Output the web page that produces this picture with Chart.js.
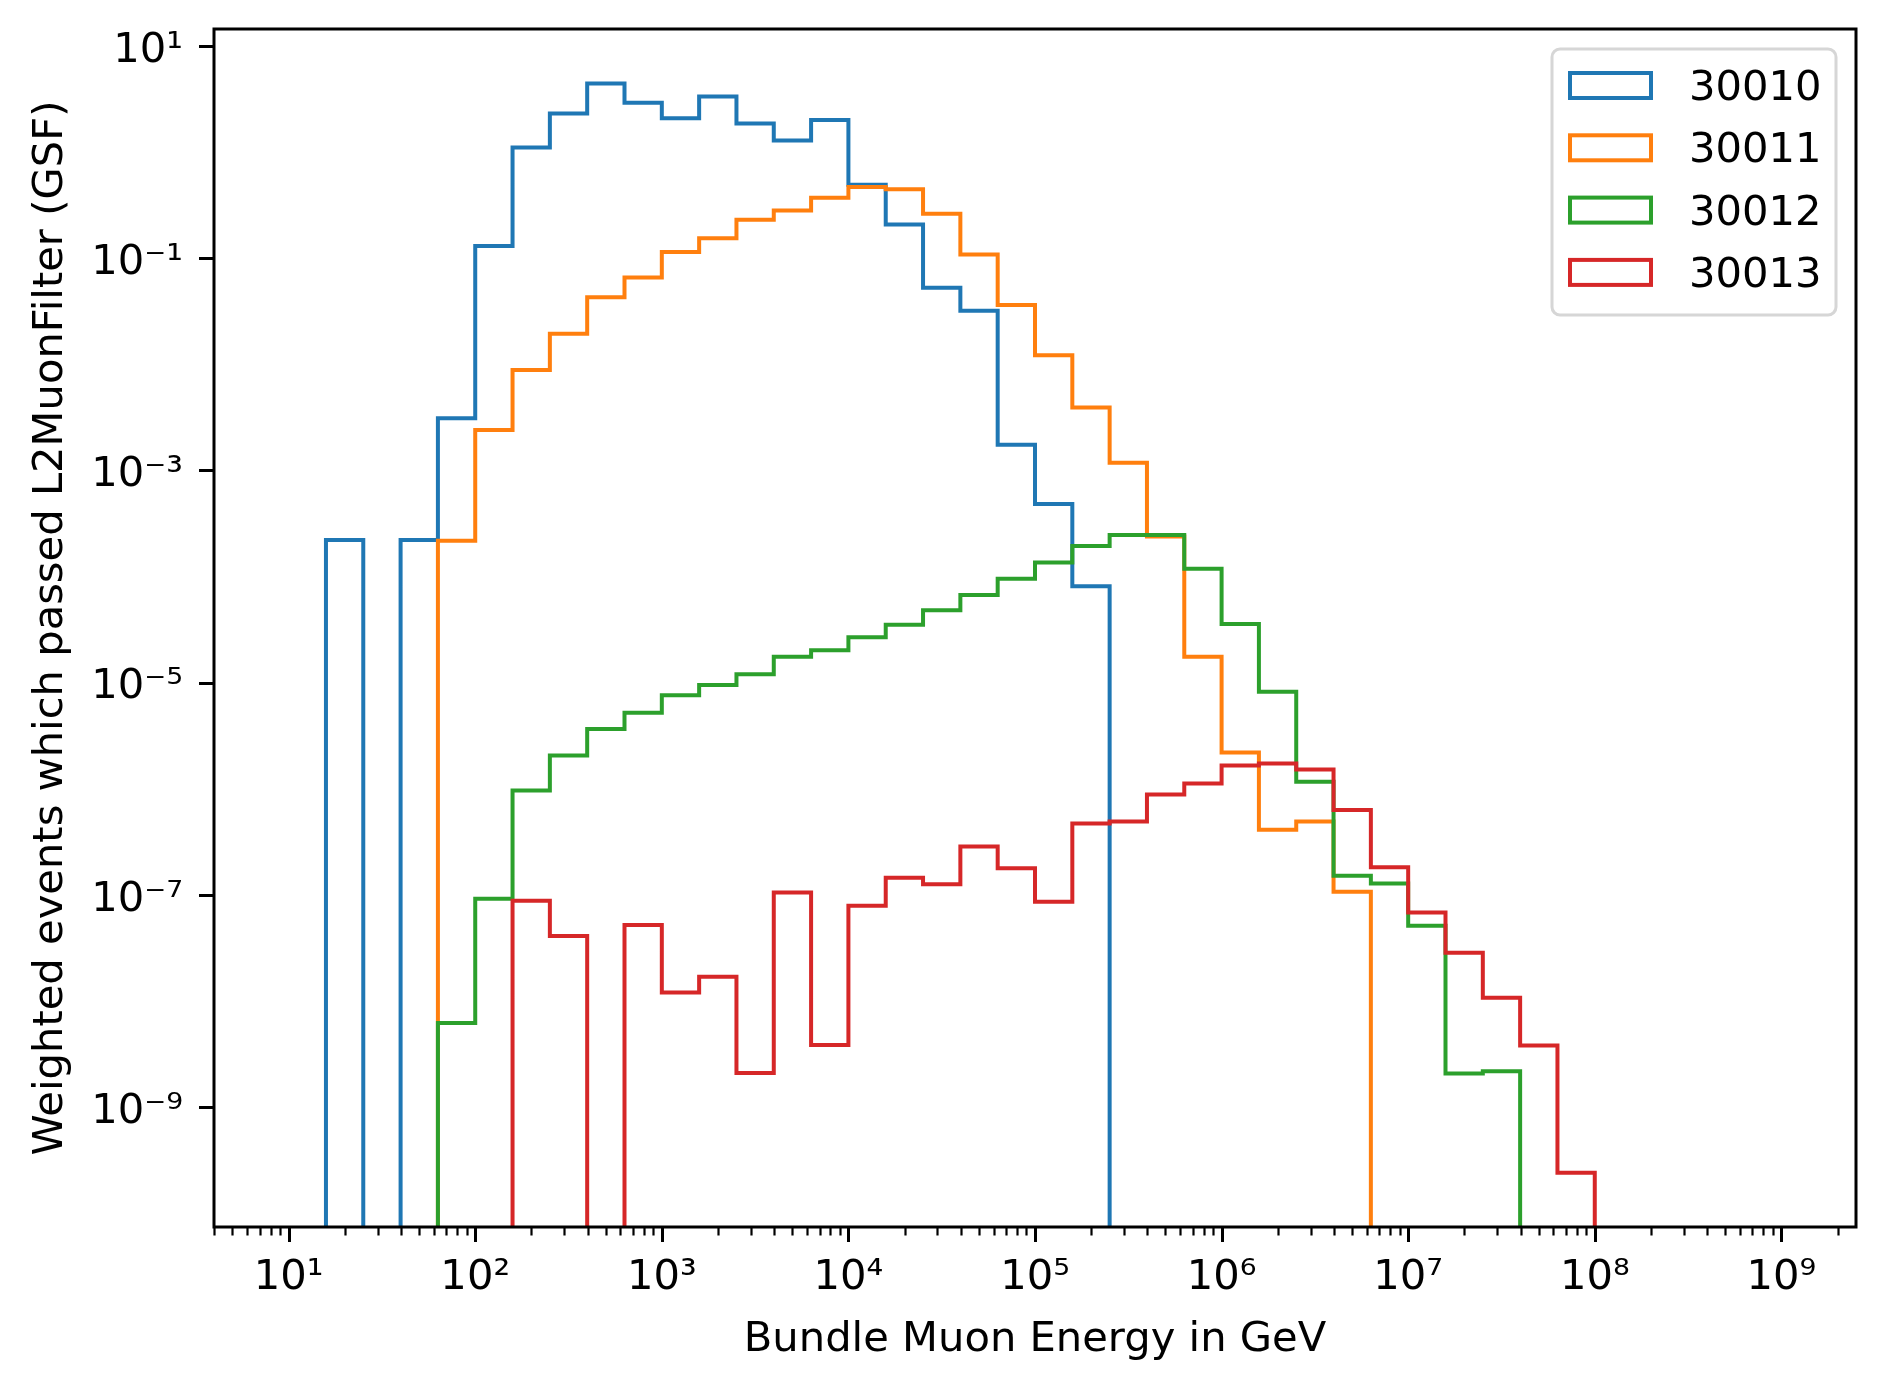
<!DOCTYPE html>
<html>
<head>
<meta charset="utf-8">
<script src="https://cdn.jsdelivr.net/npm/chart.js@4.4.0/dist/chart.umd.min.js"></script>
<style>
  html,
  body {
    margin: 0;
    padding: 0;
    background: #ffffff;
  }
  #container {
    width: 1885px;
    height: 1388px;
    position: relative;
  }
</style>
</head>
<body>
<div id="container"><canvas id="grafico-muon"></canvas></div>
<script>
// Bin edges (log10 of energy in GeV), 0.2 decade bins
var edgeExponents = [
  1.0, 1.2, 1.4, 1.6, 1.8, 2.0, 2.2, 2.4, 2.6, 2.8, 3.0, 3.2, 3.4, 3.6,
  3.8, 4.0, 4.2, 4.4, 4.6, 4.8, 5.0, 5.2, 5.4, 5.6, 5.8, 6.0, 6.2, 6.4,
  6.6, 6.8, 7.0, 7.2, 7.4, 7.6, 7.8, 8.0, 8.2, 8.4, 8.6, 8.8, 9.0,
];

// Dataset names
var runLabels = ["30010", "30011", "30012", "30013"];

// Weighted events per bin (0 = empty bin)
var dados30010 = [
  0, 2.2e-4, 0, 2.2e-4, 3.1e-3, 0.13, 1.1, 2.3, 4.4, 2.9, 2.07, 3.33, 1.85,
  1.28, 2.0, 0.49, 0.207, 0.0525, 0.0318, 1.74e-3, 4.8e-4, 8.1e-5, 0, 0, 0,
  0, 0, 0, 0, 0, 0, 0, 0, 0, 0, 0, 0, 0, 0, 0,
];
var dados30011 = [
  0, 0, 0, 0, 2.17e-4, 2.4e-3, 8.8e-3, 0.0193, 0.0428, 0.0655, 0.114, 0.154,
  0.229, 0.281, 0.37, 0.467, 0.445, 0.261, 0.108, 0.0361, 0.0121, 3.9e-3,
  1.18e-3, 2.38e-4, 1.75e-5, 2.19e-6, 4.1e-7, 4.9e-7, 1.07e-7, 0, 0, 0, 0, 0,
  0, 0, 0, 0, 0, 0,
];
var dados30012 = [
  0, 0, 0, 0, 6.2e-9, 9.2e-8, 9.6e-7, 2.05e-6, 3.65e-6, 5.2e-6, 7.6e-6,
  9.5e-6, 1.2e-5, 1.75e-5, 2.02e-5, 2.67e-5, 3.5e-5, 4.8e-5, 6.7e-5, 9.5e-5,
  1.35e-4, 1.94e-4, 2.45e-4, 2.45e-4, 1.18e-4, 3.57e-5, 8.2e-6, 1.16e-6,
  1.51e-7, 1.28e-7, 5.1e-8, 2.07e-9, 2.17e-9, 0, 0, 0, 0, 0, 0, 0,
];
var dados30013 = [
  0, 0, 0, 0, 0, 0, 8.8e-8, 4.1e-8, 0, 5.2e-8, 1.2e-8, 1.69e-8, 2.1e-9,
  1.05e-7, 3.84e-9, 7.9e-8, 1.45e-7, 1.26e-7, 2.85e-7, 1.78e-7, 8.6e-8,
  4.7e-7, 4.9e-7, 8.8e-7, 1.12e-6, 1.65e-6, 1.73e-6, 1.52e-6, 6.3e-7, 1.82e-7,
  6.8e-8, 2.85e-8, 1.07e-8, 3.8e-9, 2.4e-10, 0, 0, 0, 0, 0,
];

// Axis tick exponents
var xTickExponents = [1, 2, 3, 4, 5, 6, 7, 8, 9];
var yTickExponents = [1, -1, -3, -5, -7, -9];

var cores = ["#1f77b4", "#ff7f0e", "#2ca02c", "#d62728"];
var fonte = "DejaVu Sans";
var tamanhoFonte = 41.67;
var pisoLog = 1e-20; // empty bins go below the axis and get clipped

var binEdges = edgeExponents.map(function (e) {
  return Math.pow(10, e);
});

// Outline of a step histogram, like histtype="step"
function stepPoints(valores) {
  var pts = [{ x: binEdges[0], y: pisoLog }];
  for (var i = 0; i < valores.length; i++) {
    var v = valores[i] > 0 ? valores[i] : pisoLog;
    pts.push({ x: binEdges[i], y: v });
    pts.push({ x: binEdges[i + 1], y: v });
  }
  pts.push({ x: binEdges[valores.length], y: pisoLog });
  return pts;
}

var supMap = {
  "-": "\u207b",
  0: "\u2070",
  1: "\u00b9",
  2: "\u00b2",
  3: "\u00b3",
  4: "\u2074",
  5: "\u2075",
  6: "\u2076",
  7: "\u2077",
  8: "\u2078",
  9: "\u2079",
};
function potenciaDeDez(value) {
  var exp = String(Math.round(Math.log10(value)));
  var s = "10";
  for (var i = 0; i < exp.length; i++) s += supMap[exp[i]];
  return s;
}

// Frame, tick marks and legend box
var decoracao = {
  id: "decoracao",
  afterDraw: function (chart) {
    var ctx = chart.ctx;
    var area = chart.chartArea;
    var xs = chart.scales.x;
    var ys = chart.scales.y;
    ctx.save();
    ctx.strokeStyle = "#000000";
    ctx.lineCap = "butt";

    // x ticks (major + minor)
    for (var d = 0; d <= 9; d++) {
      for (var k = 1; k <= 9; k++) {
        var v = k * Math.pow(10, d);
        if (v < xs.min || v > xs.max) continue;
        var px = Math.round(xs.getPixelForValue(v)) + 0.5;
        ctx.lineWidth = k === 1 ? 3 : 2.2;
        ctx.beginPath();
        ctx.moveTo(px, area.bottom);
        ctx.lineTo(px, area.bottom + (k === 1 ? 15 : 8.5));
        ctx.stroke();
      }
    }
    // y ticks (major only)
    yTickExponents.forEach(function (e) {
      var py = Math.round(ys.getPixelForValue(Math.pow(10, e))) + 0.5;
      ctx.lineWidth = 3;
      ctx.beginPath();
      ctx.moveTo(area.left, py);
      ctx.lineTo(area.left - 15, py);
      ctx.stroke();
    });

    // frame
    ctx.lineWidth = 3;
    ctx.strokeRect(area.left, area.top, area.right - area.left, area.bottom - area.top);

    // legend
    var lx = area.right - 20 - 284;
    var ly = area.top + 20;
    ctx.fillStyle = "rgba(255,255,255,0.8)";
    ctx.strokeStyle = "#d6d6d6";
    ctx.lineWidth = 3;
    ctx.beginPath();
    ctx.roundRect(lx, ly, 284, 266, 8);
    ctx.fill();
    ctx.stroke();
    ctx.font = tamanhoFonte + "px '" + fonte + "'";
    ctx.textBaseline = "alphabetic";
    ctx.textAlign = "left";
    for (var i = 0; i < runLabels.length; i++) {
      var yy = ly + 22 + i * 62.3;
      ctx.strokeStyle = cores[i];
      ctx.lineWidth = 4;
      ctx.strokeRect(lx + 18, yy + 2, 81, 25);
      ctx.fillStyle = "#000000";
      ctx.fillText(runLabels[i], lx + 137, yy + 29);
    }
    ctx.restore();
  },
};

Chart.defaults.font.family = fonte;
Chart.defaults.color = "#000000";

var series = [dados30010, dados30011, dados30012, dados30013];
var datasets = series.map(function (valores, i) {
  return {
    label: runLabels[i],
    data: stepPoints(valores),
    showLine: true,
    borderColor: cores[i],
    backgroundColor: cores[i],
    borderWidth: 4,
    borderJoinStyle: "miter",
    pointRadius: 0,
    fill: false,
    tension: 0,
    order: series.length - 1 - i,
  };
});

var graficoMuon = document.getElementById("grafico-muon").getContext("2d");

new Chart(graficoMuon, {
  type: "scatter",
  data: { datasets: datasets },
  options: {
    responsive: true,
    maintainAspectRatio: false,
    animation: false,
    layout: {
      padding: { top: 29, right: 29, left: 0, bottom: 0 },
    },
    plugins: {
      legend: { display: false },
      tooltip: { enabled: false },
    },
    scales: {
      x: {
        type: "logarithmic",
        min: Math.pow(10, 0.6),
        max: Math.pow(10, 9.4),
        bounds: "data",
        grid: { display: false, drawTicks: false },
        border: { display: false },
        afterBuildTicks: function (scale) {
          scale.ticks = xTickExponents.map(function (e) {
            return { value: Math.pow(10, e) };
          });
        },
        afterFit: function (scale) {
          scale.height = 161;
          scale.paddingLeft = 0;
          scale.paddingRight = 0;
        },
        ticks: {
          autoSkip: false,
          maxRotation: 0,
          minRotation: 0,
          padding: 26,
          font: { size: tamanhoFonte },
          callback: function (value) {
            return potenciaDeDez(value);
          },
        },
        title: {
          display: true,
          text: "Bundle Muon Energy in GeV",
          font: { size: tamanhoFonte },
          padding: { top: 0, bottom: 23 },
        },
      },
      y: {
        type: "logarithmic",
        min: Math.pow(10, -10.13),
        max: Math.pow(10, 1.158),
        bounds: "data",
        grid: { display: false, drawTicks: false },
        border: { display: false },
        afterBuildTicks: function (scale) {
          scale.ticks = yTickExponents.map(function (e) {
            return { value: Math.pow(10, e) };
          });
        },
        afterFit: function (scale) {
          scale.width = 214;
          scale.paddingTop = 0;
          scale.paddingBottom = 0;
        },
        ticks: {
          autoSkip: false,
          padding: 31,
          labelOffset: 5,
          font: { size: tamanhoFonte },
          callback: function (value) {
            return potenciaDeDez(value);
          },
        },
        title: {
          display: true,
          text: "Weighted events which passed L2MuonFilter (GSF)",
          font: { size: tamanhoFonte },
          padding: { top: 26, bottom: 0 },
        },
      },
    },
  },
  plugins: [decoracao],
});
</script>
</body>
</html>
